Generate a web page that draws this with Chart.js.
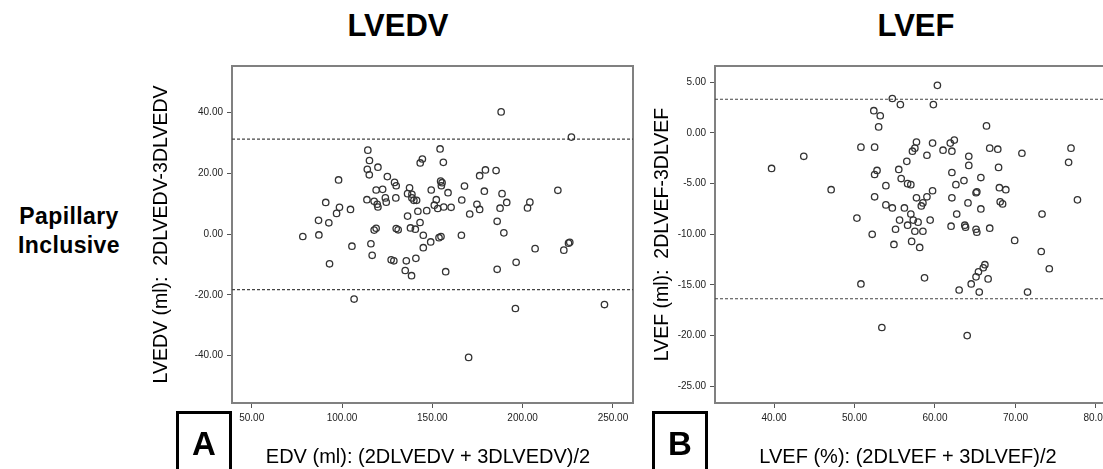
<!DOCTYPE html>
<html>
<head>
<meta charset="utf-8">
<script src="https://cdn.jsdelivr.net/npm/chart.js@4.4.1/dist/chart.umd.min.js"></script>
<style>
    html, body { margin: 0; padding: 0; background: #fff; overflow: hidden; }
    body { width: 1103px; height: 469px; position: relative; font-family: 'Liberation Sans', Arial, sans-serif; }
    canvas { position: absolute; }
    .txt { position: absolute; color: #000; white-space: nowrap; text-align: center; }
    .head { font-size: 31px; font-weight: bold; line-height: 31px; width: 200px; top: 10px; }
    .row { font-size: 23px; font-weight: bold; line-height: 29px; left: 0; width: 138px; top: 202px; letter-spacing: 0.4px; }
    .xt { font-size: 20px; line-height: 20px; width: 400px; top: 446px; }
    .panel { position: absolute; top: 411px; width: 50px; height: 80px; border: 3px solid #000; }
    .letter { font-size: 33px; font-weight: bold; line-height: 32px; width: 56px; top: 428px; }
</style>
</head>
<body>
<div class="txt head" style="left: 298px;">LVEDV</div>
<div class="txt head" style="left: 816px;">LVEF</div>
<div class="txt row">Papillary<br>Inclusive</div>

<canvas id="chartA" width="500" height="380" style="left:140px; top:56px;"></canvas>
<canvas id="chartB" width="520" height="380" style="left:630px; top:56px;"></canvas>

<div class="panel" style="left:176px;"></div>
<div class="txt letter" style="left:176px;">A</div>
<div class="panel" style="left:652px;"></div>
<div class="txt letter" style="left:652px;">B</div>
<div class="txt xt" style="left: 228px;">EDV (ml): (2DLVEDV + 3DLVEDV)/2</div>
<div class="txt xt" style="left: 708px;">LVEF (%): (2DLVEF + 3DLVEF)/2</div>

<script>
// Panel A: LVEDV Bland-Altman (mean vs difference)
const lvedvMean = [78.3, 87.2, 87.0, 91.0, 92.7, 93.1, 97.0, 98.6, 98.1, 104.7, 105.5, 114.3, 115.2, 114.0, 115.1,
    119.9, 113.8, 117.8, 119.5, 119.9, 118.9, 122.5, 124.0, 124.5, 125.1, 129.1, 130.0, 129.8, 116.0, 116.7,
    117.8, 118.9, 127.2, 128.7, 130.0, 131.1, 135.6, 135.0, 138.5, 140.9, 136.3, 137.4, 136.3, 138.7, 139.8,
    141.3, 138.7, 142.0, 137.9, 140.6, 143.2, 145.0, 145.0, 149.1, 143.3, 144.5, 146.9, 149.4, 151.1, 152.2,
    153.0, 153.7, 154.8, 154.3, 154.6, 155.4, 155.0, 156.1, 156.3, 158.7, 160.4, 157.4, 166.1, 166.3, 167.8,
    170.7, 174.7, 176.2, 176.2, 179.4, 178.8, 185.3, 188.1, 185.9, 187.5, 188.6, 191.2, 189.6, 185.9, 196.4,
    202.7, 204.0, 206.9, 219.5, 222.8, 225.4, 226.1, 227.0, 106.7, 196.0, 170.1, 245.3];
const lvedvDiff = [-0.8, -0.3, 4.5, 10.4, 3.7, -9.8, 6.8, 8.8, 17.8, 8.1, -4.0, 27.6, 24.2, 21.3, 19.5,
    22.0, 11.3, 10.8, 9.8, 8.9, 14.5, 14.7, 11.9, 10.5, 18.9, 17.0, 15.9, 11.9, -3.2, -7.0,
    1.3, 1.9, -8.5, -8.8, 1.8, 1.4, -8.8, -12.0, -13.7, -8.0, 5.9, 15.2, 13.3, 11.9, 11.1,
    11.1, 13.1, 7.5, 2.0, 1.6, 3.8, -0.4, -4.5, -2.6, 23.4, 24.7, 7.7, 14.5, 9.5, 11.3,
    8.4, -1.2, -0.8, 28.0, 17.4, 16.9, 15.9, 23.6, 8.9, 13.6, 8.8, -12.4, -0.4, 11.2, 15.8,
    6.6, 9.8, 8.1, 19.2, 21.1, 14.1, 20.9, 40.2, 4.2, 8.5, 13.3, 10.4, 0.4, -11.6, -9.3,
    8.6, 10.5, -4.8, 14.4, -5.3, -3.0, -2.7, 31.9, -21.4, -24.5, -40.6, -23.2];
const lvedvLimits = [31.25, -18.3];
const lvedvXTicks = [50, 100, 150, 200, 250];
const lvedvYTicks = [-40, -20, 0, 20, 40];

// Panel B: LVEF Bland-Altman
const lvefMean = [39.7, 43.7, 47.1, 50.3, 50.8, 52.2, 52.4, 53.2, 53.0, 52.5, 52.8, 52.5, 52.5, 53.9, 53.9,
    54.7, 55.7, 54.7, 55.1, 54.9, 55.5, 55.8, 56.2, 55.6, 56.5, 56.6, 57.0, 56.6, 57.1, 57.0,
    57.3, 57.5, 57.9, 58.1, 57.2, 57.5, 57.7, 57.7, 58.3, 58.5, 58.5, 59.0, 59.0, 59.4, 59.7,
    59.7, 59.8, 60.3, 61.0, 61.9, 62.1, 62.4, 62.1, 62.1, 62.0, 62.6, 62.7, 63.6, 63.7, 63.8,
    64.1, 64.2, 64.2, 65.1, 65.2, 65.1, 65.2, 65.7, 65.7, 66.4, 66.8, 66.8, 67.8, 67.9, 68.0,
    68.8, 68.1, 68.4, 70.8, 69.9, 73.3, 73.2, 74.2, 76.6, 76.9, 77.7, 50.8, 58.7, 63.0, 64.5,
    65.5, 65.1, 65.4, 66.0, 66.2, 66.6, 71.5, 53.4, 64.0];
const lvefDiff = [-3.5, -2.3, -5.6, -8.4, -1.4, -10.0, 2.2, 1.7, 0.6, -1.4, -3.7, -4.1, -6.3, -5.2, -7.1,
    3.4, 2.8, -7.4, -9.5, -11.0, -3.6, -4.5, -7.4, -8.6, -2.8, -5.0, -5.1, -9.1, -10.7, -8.0,
    -8.6, -9.7, -8.8, -11.3, -1.8, -1.5, -0.9, -6.4, -7.2, -6.9, -9.7, -2.2, -6.3, -8.6, -5.7,
    -1.0, 2.8, 4.7, -1.7, -1.0, -1.8, -0.7, -3.9, -6.4, -9.2, -5.1, -8.0, -4.7, -9.1, -9.3,
    -6.9, -2.3, -3.2, -5.9, -5.8, -9.5, -9.8, -7.5, -4.4, 0.7, -1.5, -9.4, -1.6, -3.4, -5.4,
    -5.6, -6.8, -7.0, -2.0, -10.6, -8.0, -11.7, -13.4, -2.9, -1.5, -6.6, -14.9, -14.3, -15.5, -14.9,
    -15.7, -14.2, -13.7, -13.3, -13.0, -14.4, -15.7, -19.2, -20.0];
const lvefLimits = [3.33, -16.36];
const lvefXTicks = [40, 50, 60, 70, 80];
const lvefYTicks = [-25, -20, -15, -10, -5, 0, 5];

Chart.defaults.font.family = "'Liberation Sans', Arial, sans-serif";
Chart.defaults.color = '#222';

// plot frame drawn around the chart area
const framePlugin = {
    id: 'frame',
    beforeDatasetsDraw(chart) {
        const { ctx, chartArea: a } = chart;
        ctx.save();
        ctx.strokeStyle = '#808080';
        ctx.lineWidth = 2;
        ctx.strokeRect(a.left, a.top, a.right - a.left, a.bottom - a.top);
        ctx.restore();
    }
};

function makeChart(id, opts) {
    const points = opts.xs.map((x, i) => ({ x: x, y: opts.ys[i] }));
    const limitSets = opts.limits.map(v => ({
        type: 'line',
        data: [{ x: opts.xMin, y: v }, { x: opts.xMax, y: v }],
        borderColor: '#444',
        borderWidth: 1.2,
        borderDash: [3, 2],
        pointRadius: 0,
        fill: false
    }));

    const tickStyle = {
        display: true,
        drawOnChartArea: false,
        drawTicks: true,
        tickLength: 5,
        tickColor: '#555'
    };

    return new Chart(document.getElementById(id), {
        type: 'scatter',
        data: {
            datasets: [{
                data: points,
                pointStyle: 'circle',
                pointRadius: 3.2,
                borderWidth: 1.3,
                borderColor: '#333',
                backgroundColor: 'rgba(0,0,0,0)'
            }, ...limitSets]
        },
        options: {
            responsive: false,
            animation: false,
            events: [],
            layout: { padding: { top: 10, right: opts.padRight, bottom: 0, left: opts.padLeft } },
            plugins: { legend: { display: false }, tooltip: { enabled: false } },
            scales: {
                x: {
                    type: 'linear',
                    min: opts.xMin,
                    max: opts.xMax,
                    afterBuildTicks: axis => { axis.ticks = opts.xTicks.map(v => ({ value: v })); },
                    afterFit: axis => { axis.height = 33; },
                    grid: tickStyle,
                    border: { display: false },
                    ticks: {
                        font: { size: 10 },
                        padding: 4,
                        maxRotation: 0,
                        callback: v => v.toFixed(2)
                    }
                },
                y: {
                    type: 'linear',
                    min: opts.yMin,
                    max: opts.yMax,
                    afterBuildTicks: axis => { axis.ticks = opts.yTicks.map(v => ({ value: v })); },
                    afterFit: axis => { axis.width = opts.yWidth; },
                    grid: tickStyle,
                    border: { display: false },
                    title: {
                        display: true,
                        text: opts.yTitle,
                        color: '#000',
                        font: { size: 19.5 },
                        padding: 0
                    },
                    ticks: {
                        font: { size: 10 },
                        padding: 4,
                        callback: v => v.toFixed(2)
                    }
                }
            }
        },
        plugins: [framePlugin]
    });
}

makeChart('chartA', {
    xs: lvedvMean, ys: lvedvDiff, limits: lvedvLimits,
    xTicks: lvedvXTicks, yTicks: lvedvYTicks,
    xMin: 39.1, xMax: 261.1, yMin: -55.6, yMax: 55.3,
    padLeft: 10.3, padRight: 7, yWidth: 81.7,
    yTitle: 'LVEDV (ml):  2DLVEDV-3DLVEDV'
});

makeChart('chartB', {
    xs: lvefMean, ys: lvefDiff, limits: lvefLimits,
    xTicks: lvefXTicks, yTicks: lvefYTicks,
    xMin: 32.67, xMax: 85.47, yMin: -26.65, yMax: 6.61,
    padLeft: 21.3, padRight: 10, yWidth: 63.7,
    yTitle: 'LVEF (ml):  2DLVEF-3DLVEF'
});
</script>
</body>
</html>
